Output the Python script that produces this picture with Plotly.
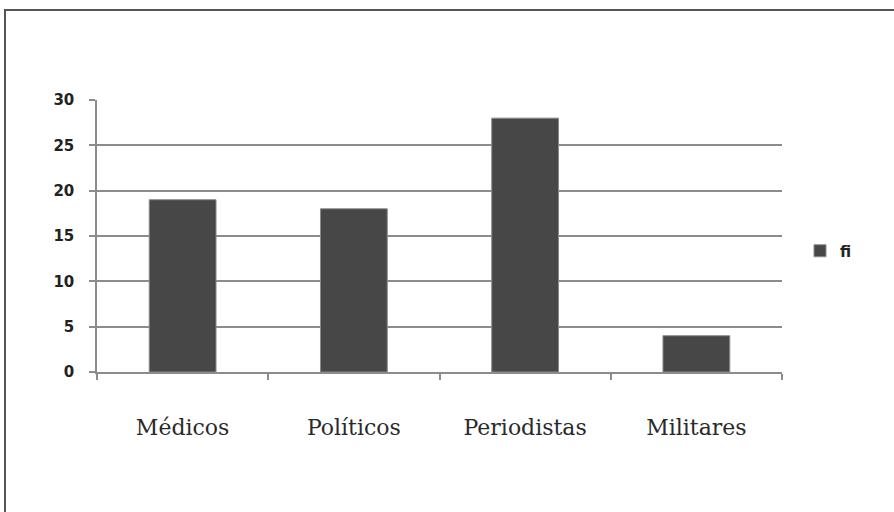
import plotly.graph_objects as go

categories = ["Médicos", "Políticos", "Periodistas", "Militares"]
fi_values = [19, 18, 28, 4]
y_ticks = [0, 5, 10, 15, 20, 25, 30]

L, R, T, B = 97, 112, 100, 140
W, H = 894, 512
pw, ph = W - L - R, H - T - B

fig = go.Figure()
fig.add_trace(go.Bar(
    x=categories, y=fi_values, name="fi",
    marker=dict(color="#474747", line=dict(color="#8a8a8a", width=1)),
    width=0.39,
))

fig.update_layout(
    width=W, height=H,
    margin=dict(l=L, r=R, t=T, b=B, pad=0),
    paper_bgcolor="white", plot_bgcolor="white",
    showlegend=True,
    legend=dict(x=(800 - L) / pw, y=(H - B - 251) / ph, xanchor="left", yanchor="middle",
                font=dict(family="DejaVu Sans", size=15, color="#222222", weight="bold"),
                itemwidth=30, tracegroupgap=0, bgcolor="rgba(0,0,0,0)"),
    xaxis=dict(
        type="category", showgrid=False, showline=True, linecolor="#8c8c8c", linewidth=1.5,
        ticks="outside", tickson="boundaries", ticklen=6, tickcolor="#8c8c8c", tickwidth=1.5,
        tickfont=dict(family="DejaVu Serif", size=22, color="#2a2a2a"),
        ticklabelstandoff=35,
    ),
    yaxis=dict(
        range=[0, 30], tickvals=y_ticks, showgrid=True, gridcolor="#8c8c8c", gridwidth=1.5,
        showline=True, linecolor="#8c8c8c", linewidth=1.5, zeroline=False,
        ticks="outside", ticklen=6, tickcolor="#8c8c8c", tickwidth=1.5,
        tickfont=dict(family="DejaVu Sans", size=15, color="#222222", weight="bold"),
        ticklabelstandoff=12,
    ),
    shapes=[dict(
        type="rect", xref="paper", yref="paper",
        x0=(5 - L) / pw, x1=(W + 20 - L) / pw,
        y0=(H - B - (H + 20)) / ph, y1=(H - B - 10) / ph,
        line=dict(color="#555555", width=2), fillcolor="rgba(0,0,0,0)",
    )],
)

fig.write_html("out.html", config={"displayModeBar": False},
               post_script="document.body.style.margin='0';document.body.style.overflow='hidden';")
